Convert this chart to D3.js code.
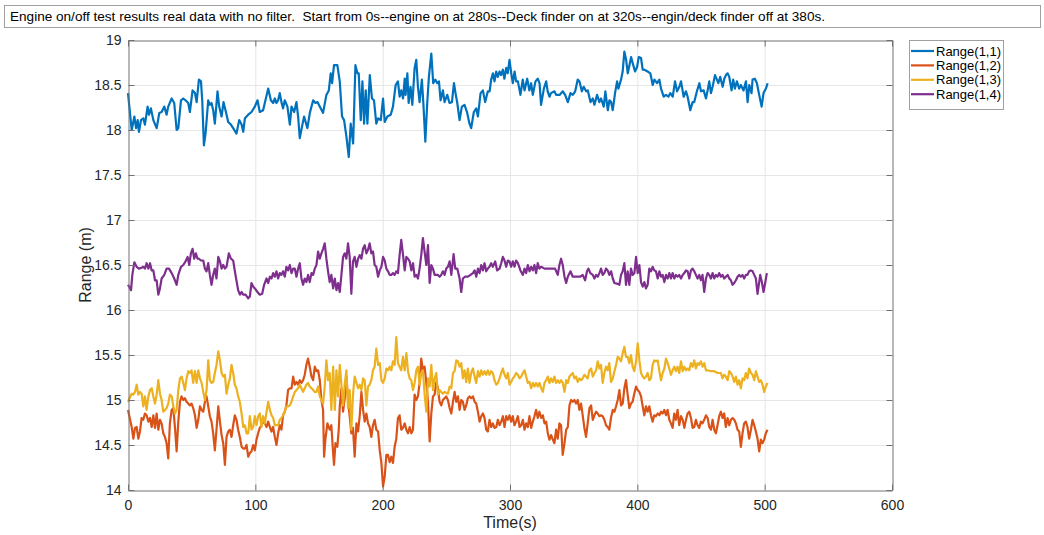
<!DOCTYPE html>
<html>
<head>
<meta charset="utf-8">
<script src="https://cdn.jsdelivr.net/npm/d3@7"></script>
<style>
  body { margin: 0; background: #fff; }
  svg { display: block; font-family: "Liberation Sans", Arial, sans-serif; }
</style>
</head>
<body>
<svg width="1044" height="535"></svg>
<script>
// chart text and ticks
const titleText = 'Engine on/off test results real data with no filter.  Start from 0s--engine on at 280s--Deck finder on at 320s--engin/deck finder off at 380s.';
const xTicks = [0, 100, 200, 300, 400, 500, 600];
const yTicks = [14, 14.5, 15, 15.5, 16, 16.5, 17, 17.5, 18, 18.5, 19];
const seriesNames = ['Range(1,1)', 'Range(1,2)', 'Range(1,3)', 'Range(1,4)'];
const seriesColors = ['#0072BD', '#D95319', '#EDB120', '#7E2F8E'];

// [time (s), range (m)]
const range11 = [[0,18.41],[2.9,18.00],[5.0,18.15],[6.3,18.02],[7.6,18.11],[8.6,17.98],[10.2,18.11],[12.0,18.13],[13.3,18.06],[15.4,18.26],[16.5,18.17],[18.0,18.24],[19.9,18.11],[22.5,18.02],[24.6,18.19],[26.4,18.20],[28.5,18.26],[30.3,18.17],[31.6,18.26],[34.3,18.35],[36.3,18.30],[38.2,18.00],[39.5,18.02],[41.6,18.33],[43.4,18.35],[45.2,18.33],[47.3,18.30],[48.6,18.20],[50.7,18.44],[52.6,18.41],[53.9,18.31],[55.7,18.56],[57.3,18.54],[58.3,18.33],[59.6,17.83],[60.9,17.96],[63.0,18.33],[64.3,18.28],[65.6,18.30],[66.9,18.22],[68.2,18.07],[70.3,18.43],[71.6,18.26],[73.5,18.15],[75.0,18.31],[76.9,18.20],[78.7,18.09],[80.8,18.06],[82.6,18.02],[85.2,17.96],[87.3,18.11],[89.2,18.06],[90.5,17.98],[91.8,18.13],[94.4,18.17],[97.0,18.20],[99.6,18.26],[101.7,18.33],[103.5,18.20],[106.1,18.22],[110.1,18.46],[112.2,18.33],[114.0,18.30],[115.3,18.35],[116.6,18.30],[117.9,18.33],[119.2,18.41],[120.5,18.31],[121.8,18.24],[123.1,18.33],[125.2,18.26],[127.1,18.06],[128.4,18.26],[130.5,18.20],[132.3,18.31],[133.6,18.15],[134.9,17.91],[136.7,18.04],[138.3,18.15],[140.9,18.02],[142.8,18.19],[145.4,18.33],[147.2,18.30],[148.8,18.31],[150.6,18.26],[153.2,18.19],[155.8,18.39],[157.7,18.44],[159.2,18.63],[160.3,18.52],[161.8,18.72],[164.4,18.72],[166.3,18.54],[168.1,18.15],[169.7,18.11],[171.5,17.93],[173.4,17.70],[174.9,18.07],[176.8,17.85],[178.6,18.72],[180.2,18.63],[181.2,18.63],[182.8,18.11],[184.1,18.54],[185.4,18.07],[186.7,18.44],[188.0,18.07],[189.9,18.61],[191.6,18.35],[193.2,18.33],[195.0,18.07],[196.4,18.13],[198.5,18.11],[200.3,18.35],[201.6,18.09],[203.7,18.15],[206.3,18.17],[208.1,18.26],[210.2,18.50],[212.0,18.54],[213.3,18.37],[214.6,18.44],[216.0,18.35],[217.3,18.57],[218.0,18.39],[219.4,18.63],[220.4,18.30],[221.9,18.48],[223.3,18.28],[225.1,18.69],[226.4,18.78],[227.7,18.48],[229.0,18.31],[230.8,18.56],[232.1,18.26],[233.5,17.87],[235.0,18.30],[236.3,18.59],[238.2,18.85],[239.7,18.52],[241.3,18.56],[242.9,18.52],[244.2,18.54],[245.5,18.33],[247.3,18.44],[248.6,18.31],[250.7,18.39],[252.5,18.30],[254.4,18.31],[256.0,18.52],[257.2,18.41],[258.6,18.30],[260.4,18.11],[262.2,18.26],[264.3,18.28],[266.4,18.19],[268.2,18.07],[269.5,18.02],[271.6,18.20],[273.5,18.24],[274.8,18.15],[276.9,18.41],[278.7,18.44],[280.5,18.31],[282.6,18.43],[284.0,18.43],[285.2,18.56],[286.6,18.63],[287.8,18.54],[289.2,18.65],[290.4,18.59],[291.8,18.65],[293.0,18.61],[294.4,18.67],[295.6,18.57],[297.0,18.69],[298.2,18.63],[299.6,18.78],[301.0,18.63],[302.2,18.52],[303.6,18.65],[304.8,18.54],[306.2,18.54],[308.2,18.39],[310.0,18.56],[311.4,18.44],[313.5,18.57],[315.2,18.44],[316.6,18.52],[317.9,18.39],[320.0,18.54],[321.8,18.57],[323.2,18.52],[324.4,18.28],[326.6,18.46],[328.4,18.54],[329.6,18.43],[331.0,18.37],[332.2,18.41],[334.9,18.43],[336.2,18.39],[338.9,18.39],[341.5,18.43],[343.3,18.39],[345.4,18.31],[347.5,18.41],[349.3,18.39],[351.2,18.43],[353.2,18.56],[354.6,18.54],[356.4,18.43],[357.9,18.48],[359.8,18.43],[361.1,18.44],[363.2,18.31],[365.0,18.35],[366.3,18.28],[368.4,18.39],[370.2,18.31],[371.5,18.35],[373.6,18.26],[374.9,18.43],[376.8,18.22],[378.1,18.33],[379.4,18.31],[380.7,18.22],[382.5,18.41],[384.1,18.54],[385.1,18.46],[387.2,18.56],[388.5,18.65],[389.8,18.87],[391.2,18.78],[392.5,18.63],[393.8,18.72],[395.1,18.81],[396.4,18.74],[398.2,18.65],[399.8,18.70],[401.1,18.81],[402.9,18.80],[404.2,18.67],[405.5,18.67],[408.1,18.65],[410.2,18.63],[412.1,18.50],[413.4,18.56],[415.5,18.52],[417.3,18.56],[418.6,18.46],[420.7,18.37],[422.5,18.39],[424.4,18.37],[425.9,18.41],[427.8,18.37],[429.6,18.54],[431.2,18.43],[433.0,18.48],[434.3,18.54],[436.4,18.37],[438.2,18.43],[439.5,18.37],[441.6,18.22],[443.4,18.31],[444.7,18.31],[446.8,18.43],[448.7,18.52],[450.0,18.43],[452.1,18.44],[453.9,18.35],[455.2,18.44],[456.5,18.54],[457.8,18.41],[459.1,18.48],[461.0,18.61],[462.5,18.56],[463.6,18.52],[465.1,18.59],[467.0,18.48],[468.3,18.57],[469.6,18.61],[470.9,18.63],[472.2,18.59],[474.0,18.44],[475.3,18.56],[476.6,18.46],[478.2,18.54],[480.0,18.46],[481.3,18.50],[483.4,18.44],[485.3,18.54],[486.6,18.31],[487.9,18.50],[489.7,18.41],[490.5,18.56],[492.3,18.57],[493.9,18.52],[495.7,18.39],[497.6,18.26],[499.1,18.41],[501.0,18.46],[502.3,18.52]];

const range12 = [[0,14.89],[2.9,14.70],[4.2,14.57],[5.5,14.69],[6.8,14.70],[8.1,14.57],[9.4,14.65],[10.7,14.80],[12.0,14.78],[13.3,14.85],[14.6,14.83],[16.0,14.76],[17.3,14.80],[18.6,14.70],[19.9,14.83],[21.2,14.69],[22.5,14.85],[23.8,14.67],[25.1,14.78],[26.4,14.74],[27.7,14.63],[29.0,14.59],[30.3,14.52],[31.6,14.35],[32.9,14.74],[34.3,14.89],[35.6,14.91],[36.9,14.69],[38.2,14.43],[39.5,14.76],[40.8,14.98],[42.1,15.04],[43.4,15.00],[44.7,15.02],[46.0,14.98],[47.3,14.96],[48.6,14.94],[49.9,14.96],[51.2,14.91],[52.6,14.83],[53.9,14.69],[55.2,14.78],[56.5,14.93],[57.8,14.89],[59.1,14.87],[60.4,14.98],[61.7,15.04],[63.0,14.93],[64.3,14.82],[65.6,14.76],[66.9,14.63],[68.2,14.44],[69.5,14.67],[70.9,14.93],[72.2,14.76],[73.5,14.61],[74.8,14.52],[76.1,14.28],[77.4,14.59],[78.7,14.65],[80.0,14.67],[81.3,14.59],[82.6,14.72],[83.9,14.83],[85.2,14.78],[86.5,14.67],[87.8,14.59],[89.2,14.48],[90.5,14.46],[91.8,14.46],[93.1,14.50],[94.4,14.37],[95.7,14.41],[97.0,14.43],[98.3,14.50],[99.6,14.44],[100.9,14.56],[102.2,14.63],[103.5,14.69],[104.8,14.72],[106.1,14.76],[107.5,14.74],[108.8,14.70],[110.1,14.76],[111.4,14.70],[112.7,14.65],[114.0,14.70],[115.3,14.59],[116.6,14.50],[117.9,14.63],[119.2,14.72],[120.5,14.67],[121.8,14.83],[123.1,14.87],[124.4,14.94],[125.7,15.11],[127.1,15.13],[128.4,15.13],[129.7,15.26],[131.0,15.17],[132.3,15.20],[133.6,15.17],[134.9,15.22],[136.2,15.19],[137.5,15.22],[138.8,15.28],[140.1,15.39],[141.4,15.46],[142.7,15.37],[144.1,15.26],[145.4,15.22],[146.7,15.37],[148.0,15.32],[149.3,15.33],[150.6,15.22],[151.9,15.00],[153.2,14.89],[154.0,14.37],[155.0,14.56],[156.6,14.74],[158.4,14.67],[159.7,14.72],[161.1,14.41],[161.8,14.28],[162.9,14.52],[164.4,14.48],[165.5,14.67],[166.3,14.93],[167.6,15.13],[168.9,14.87],[170.2,15.02],[171.5,15.26],[172.8,15.00],[174.1,14.82],[175.4,14.63],[176.7,14.69],[178.0,14.37],[179.4,14.74],[180.7,14.65],[182.0,14.83],[183.3,15.09],[184.6,14.89],[185.9,14.76],[187.2,14.85],[188.5,14.74],[189.8,14.70],[191.1,14.59],[192.4,14.72],[193.7,14.78],[195.0,14.67],[196.4,14.65],[197.7,14.44],[199.0,14.30],[200.3,14.04],[201.6,14.15],[202.9,14.39],[204.2,14.39],[205.5,14.31],[206.8,14.37],[208.1,14.30],[209.4,14.48],[210.7,14.57],[212.0,14.80],[213.3,14.83],[214.6,14.67],[215.9,14.69],[217.3,14.74],[218.6,14.67],[219.9,14.63],[221.2,14.70],[222.5,14.63],[223.8,14.67],[225.1,15.06],[226.4,15.00],[227.7,15.04],[229.0,15.19],[230.3,15.46],[231.6,15.33],[232.9,15.37],[234.3,15.19],[235.6,14.98],[236.9,14.54],[238.2,14.85],[239.5,15.04],[240.8,15.06],[242.1,15.20],[243.4,15.13],[244.7,14.98],[246.0,14.94],[247.3,15.00],[248.6,15.02],[249.9,15.04],[251.2,15.00],[252.6,14.91],[253.9,14.85],[255.2,14.98],[256.5,15.09],[257.8,14.98],[259.1,15.04],[260.4,14.89],[261.7,15.00],[263.0,14.98],[264.3,14.89],[265.6,14.94],[266.9,15.02],[268.2,15.04],[269.5,15.02],[270.9,15.04],[272.2,14.98],[273.5,14.96],[274.8,14.87],[276.1,14.76],[277.4,14.82],[278.7,14.85],[280.0,14.80],[281.3,14.67],[282.6,14.65],[283.9,14.78],[285.2,14.70],[286.5,14.74],[287.8,14.69],[289.2,14.70],[290.5,14.78],[291.8,14.72],[293.1,14.76],[294.4,14.82],[295.7,14.70],[297.0,14.82],[298.3,14.78],[299.6,14.83],[300.9,14.76],[302.2,14.82],[303.5,14.72],[304.8,14.76],[306.2,14.82],[307.5,14.70],[308.8,14.72],[310.1,14.78],[311.4,14.67],[312.7,14.74],[314.0,14.70],[315.3,14.82],[316.6,14.69],[317.9,14.76],[319.2,14.82],[320.5,14.89],[321.8,14.80],[323.1,14.87],[324.5,14.80],[325.8,14.83],[327.1,14.74],[328.4,14.76],[329.7,14.63],[331.0,14.56],[332.3,14.61],[333.6,14.56],[334.9,14.52],[336.2,14.67],[337.5,14.57],[338.8,14.74],[340.1,14.72],[341.4,14.39],[342.8,14.52],[344.1,14.67],[345.4,14.70],[346.7,14.94],[348.0,15.00],[349.3,14.98],[350.6,15.00],[351.9,14.96],[353.2,15.00],[354.5,14.89],[355.8,14.96],[357.1,14.83],[358.4,14.69],[359.7,14.59],[361.0,14.74],[362.4,14.91],[363.7,14.94],[365.0,14.78],[366.3,14.83],[367.6,14.87],[368.9,14.85],[370.2,14.82],[371.5,14.83],[372.8,14.82],[374.1,14.78],[375.4,14.72],[376.7,14.70],[378.0,14.67],[379.3,14.80],[380.7,14.89],[382.0,14.87],[383.3,14.93],[384.6,15.00],[385.9,15.11],[387.2,14.94],[388.5,14.96],[389.8,15.13],[391.1,15.22],[392.4,15.06],[393.7,14.91],[395.0,14.96],[396.3,14.98],[397.6,15.07],[399.0,15.15],[400.3,15.11],[401.6,15.09],[402.9,15.04],[404.2,14.93],[405.5,14.83],[406.8,14.93],[408.1,14.87],[409.4,14.93],[410.7,14.83],[412.0,14.76],[413.3,14.83],[414.6,14.82],[416.0,14.85],[417.3,14.83],[418.6,14.87],[419.9,14.85],[421.2,14.89],[422.5,14.83],[423.8,14.89],[425.1,14.78],[426.4,14.74],[427.7,14.69],[429.0,14.85],[430.3,14.78],[431.6,14.89],[432.9,14.72],[434.3,14.82],[435.6,14.78],[436.9,14.69],[438.2,14.78],[439.5,14.85],[440.8,14.87],[442.1,14.80],[443.4,14.69],[444.7,14.70],[446.0,14.78],[447.3,14.72],[448.6,14.69],[449.9,14.76],[451.2,14.74],[452.5,14.78],[453.9,14.83],[455.2,14.80],[456.5,14.70],[457.8,14.67],[459.1,14.78],[460.4,14.67],[461.7,14.63],[463.0,14.72],[464.3,14.82],[465.6,14.87],[466.9,14.80],[468.2,14.85],[469.5,14.70],[470.9,14.80],[472.2,14.72],[473.5,14.78],[474.8,14.80],[476.1,14.78],[477.4,14.74],[478.7,14.67],[480.0,14.65],[481.3,14.48],[482.6,14.63],[483.9,14.74],[485.2,14.76],[486.5,14.70],[487.8,14.57],[489.2,14.67],[490.5,14.78],[491.8,14.72],[493.1,14.65],[494.4,14.57],[495.7,14.43],[497.0,14.56],[498.3,14.52],[499.6,14.56],[500.9,14.63],[502.2,14.67]];

const range13 = [[0,14.98],[2.9,15.07],[4.2,15.06],[5.5,15.09],[6.8,15.17],[8.1,15.06],[9.4,15.09],[10.7,15.07],[12.0,14.93],[13.3,15.04],[14.6,14.89],[16.0,15.04],[17.3,15.11],[18.6,15.13],[19.9,15.04],[21.2,14.96],[22.5,15.06],[23.8,15.22],[25.1,15.07],[26.4,15.00],[27.7,14.87],[29.0,14.89],[30.3,14.91],[31.6,14.96],[32.9,15.06],[34.3,15.04],[35.6,14.93],[36.9,14.85],[38.2,14.89],[39.5,15.11],[40.8,15.24],[42.1,15.26],[43.4,15.19],[44.7,15.11],[46.0,15.24],[47.3,15.32],[48.6,15.30],[49.9,15.33],[51.2,15.19],[52.6,15.32],[53.9,15.19],[55.2,15.33],[56.5,15.24],[57.8,15.19],[59.1,15.09],[60.4,15.00],[61.7,15.11],[63.0,15.44],[64.3,15.22],[65.6,15.19],[66.9,15.20],[68.2,15.30],[69.5,15.39],[70.9,15.54],[72.2,15.44],[73.5,15.30],[74.8,15.26],[76.1,15.28],[77.4,15.07],[78.7,15.17],[80.0,15.24],[81.3,15.39],[82.6,15.30],[83.9,15.17],[85.2,15.13],[86.5,15.04],[87.8,14.98],[89.2,14.85],[90.5,14.70],[91.8,14.72],[93.1,14.63],[94.4,14.63],[95.7,14.82],[97.0,14.67],[98.3,14.70],[99.6,14.82],[100.9,14.72],[102.2,14.82],[103.5,14.85],[104.8,14.70],[106.1,14.82],[107.5,14.74],[108.8,14.87],[110.1,14.98],[111.4,14.89],[112.7,14.83],[114.0,14.80],[115.3,14.72],[116.6,14.72],[117.9,14.72],[119.2,14.78],[120.5,14.80],[121.8,14.83],[123.1,14.87],[124.4,14.93],[125.8,14.93],[127.1,14.94],[128.4,14.98],[129.7,15.04],[131.0,15.09],[132.3,15.11],[133.6,15.13],[134.9,15.17],[136.2,15.13],[137.5,15.09],[138.8,15.13],[140.1,15.17],[141.4,15.19],[142.7,15.15],[144.1,15.13],[145.4,15.11],[146.7,15.09],[148.0,15.09],[149.3,15.15],[150.6,15.04],[151.9,15.00],[153.2,14.96],[154.5,15.15],[155.8,15.44],[157.1,15.22],[158.4,15.30],[159.7,14.89],[161.1,15.37],[162.4,14.89],[163.7,15.33],[165.0,15.04],[166.3,15.39],[167.6,15.17],[168.9,14.94],[170.2,15.17],[171.5,15.33],[172.8,14.91],[174.1,15.11],[175.4,14.67],[176.7,15.06],[178.0,15.26],[179.4,15.19],[180.7,15.13],[182.0,15.17],[183.3,15.11],[184.6,15.24],[185.9,15.22],[187.2,14.94],[188.5,15.15],[189.8,15.17],[191.1,15.22],[192.4,15.33],[193.7,15.37],[195.0,15.57],[196.4,15.39],[197.7,15.41],[199.0,15.22],[200.3,15.19],[201.6,15.24],[202.9,15.35],[204.2,15.33],[205.5,15.37],[206.8,15.33],[208.1,15.43],[209.4,15.39],[210.7,15.70],[212.0,15.41],[213.3,15.37],[214.6,15.33],[215.9,15.48],[217.3,15.33],[218.6,15.52],[219.9,15.32],[221.2,15.24],[222.5,15.22],[223.8,15.11],[225.1,15.19],[226.4,15.33],[227.7,15.37],[229.0,15.17],[230.3,15.30],[231.6,15.33],[232.9,15.07],[234.3,14.87],[235.6,15.24],[236.9,15.15],[238.2,15.39],[239.5,15.11],[240.8,15.24],[242.1,15.30],[243.4,15.06],[244.7,15.11],[246.0,15.09],[247.3,15.07],[248.6,15.09],[251.2,15.07],[252.6,15.15],[253.9,15.13],[255.2,15.30],[256.5,15.32],[257.8,15.44],[259.1,15.43],[260.4,15.37],[261.7,15.41],[263.0,15.24],[264.3,15.33],[265.6,15.20],[266.9,15.35],[268.2,15.19],[269.5,15.30],[270.9,15.35],[272.2,15.26],[273.5,15.19],[274.8,15.32],[276.1,15.26],[277.4,15.33],[278.7,15.28],[280.0,15.32],[281.3,15.28],[282.6,15.33],[283.9,15.28],[285.2,15.32],[286.5,15.30],[287.8,15.22],[289.2,15.17],[290.5,15.19],[291.8,15.24],[293.1,15.30],[294.4,15.35],[295.7,15.28],[297.0,15.24],[298.3,15.30],[299.6,15.17],[300.9,15.20],[302.2,15.24],[303.5,15.26],[304.8,15.30],[306.2,15.28],[307.5,15.24],[308.8,15.26],[310.1,15.30],[311.4,15.33],[312.7,15.26],[314.0,15.19],[315.3,15.20],[316.6,15.13],[317.9,15.19],[319.2,15.15],[320.5,15.19],[321.8,15.15],[323.1,15.19],[324.5,15.13],[325.8,15.09],[327.1,15.19],[328.4,15.22],[329.7,15.26],[331.0,15.19],[332.3,15.24],[333.6,15.20],[334.9,15.26],[336.2,15.19],[337.5,15.22],[338.8,15.19],[340.1,15.22],[341.4,15.19],[342.8,15.09],[344.1,15.22],[345.4,15.19],[346.7,15.26],[348.0,15.28],[349.3,15.30],[350.6,15.24],[351.9,15.26],[353.2,15.20],[354.5,15.24],[355.8,15.22],[357.1,15.24],[358.4,15.28],[359.7,15.26],[361.0,15.24],[362.4,15.33],[363.7,15.35],[365.0,15.26],[366.3,15.30],[367.6,15.33],[368.9,15.43],[370.2,15.35],[371.5,15.39],[372.8,15.19],[374.1,15.30],[375.4,15.37],[376.7,15.33],[378.0,15.41],[379.3,15.20],[380.7,15.24],[382.0,15.32],[383.3,15.39],[384.6,15.48],[385.9,15.46],[387.2,15.43],[388.5,15.52],[389.8,15.59],[391.1,15.48],[392.4,15.48],[393.7,15.41],[395.0,15.50],[396.3,15.37],[397.6,15.32],[399.0,15.43],[400.3,15.63],[401.6,15.44],[402.9,15.30],[404.2,15.26],[405.5,15.24],[406.8,15.26],[408.1,15.30],[409.4,15.22],[410.7,15.24],[412.0,15.39],[413.3,15.44],[414.6,15.43],[416.0,15.44],[417.3,15.32],[418.6,15.22],[419.9,15.30],[421.2,15.35],[422.5,15.46],[423.8,15.41],[425.1,15.35],[426.4,15.28],[427.7,15.33],[429.0,15.37],[430.3,15.32],[431.6,15.37],[432.9,15.30],[434.3,15.43],[435.6,15.32],[436.9,15.37],[438.2,15.33],[439.5,15.35],[440.8,15.33],[442.1,15.41],[443.4,15.37],[444.7,15.44],[446.0,15.35],[447.3,15.41],[448.6,15.39],[449.9,15.43],[451.2,15.37],[452.5,15.41],[453.9,15.33],[455.2,15.33],[457.8,15.32],[460.4,15.32],[463.0,15.30],[465.6,15.30],[466.9,15.24],[468.2,15.28],[469.5,15.26],[470.9,15.22],[472.2,15.32],[473.5,15.30],[474.8,15.26],[476.1,15.20],[477.4,15.26],[478.7,15.17],[480.0,15.22],[481.3,15.13],[482.6,15.24],[483.9,15.22],[485.2,15.30],[486.5,15.24],[487.8,15.35],[489.2,15.30],[490.5,15.28],[491.8,15.22],[493.1,15.32],[494.4,15.26],[495.7,15.20],[497.0,15.22],[498.3,15.17],[499.6,15.09],[500.9,15.15],[502.2,15.19]];

const range14 = [[0,16.28],[2.4,16.22],[3.4,16.39],[5.0,16.53],[6.8,16.48],[8.6,16.46],[10.7,16.47],[12.0,16.48],[13.3,16.46],[14.6,16.52],[16.0,16.46],[17.3,16.52],[18.6,16.44],[19.9,16.44],[21.2,16.33],[22.5,16.33],[23.8,16.17],[25.1,16.24],[26.4,16.35],[28.5,16.39],[30.3,16.46],[32.2,16.46],[34.3,16.41],[36.3,16.35],[38.2,16.28],[39.5,16.39],[41.6,16.48],[43.4,16.50],[45.2,16.54],[46.8,16.59],[48.1,16.50],[49.4,16.63],[50.7,16.68],[52.0,16.57],[53.3,16.63],[54.6,16.57],[55.7,16.57],[57.3,16.55],[59.1,16.55],[60.4,16.46],[61.7,16.43],[63.0,16.52],[64.3,16.39],[65.6,16.28],[66.9,16.39],[68.2,16.46],[69.5,16.35],[70.9,16.59],[72.2,16.54],[73.5,16.46],[74.8,16.50],[76.1,16.46],[77.4,16.48],[79.2,16.63],[80.8,16.57],[82.6,16.55],[84.4,16.39],[86.5,16.22],[87.9,16.17],[89.2,16.20],[90.5,16.17],[92.3,16.17],[94.4,16.13],[95.7,16.15],[97.0,16.30],[98.3,16.26],[99.6,16.24],[101.7,16.20],[103.5,16.17],[105.4,16.18],[106.9,16.28],[108.8,16.35],[110.1,16.30],[111.4,16.37],[112.7,16.35],[114.0,16.41],[115.3,16.37],[116.6,16.43],[117.9,16.35],[119.2,16.41],[120.5,16.39],[121.8,16.43],[123.1,16.37],[124.4,16.48],[125.7,16.44],[127.1,16.50],[128.4,16.41],[129.7,16.46],[131.0,16.46],[132.3,16.37],[133.6,16.46],[134.9,16.52],[136.2,16.35],[137.5,16.28],[138.8,16.35],[140.1,16.31],[141.4,16.39],[142.7,16.31],[144.1,16.41],[145.4,16.39],[146.7,16.46],[148.0,16.50],[149.3,16.65],[150.6,16.57],[151.9,16.63],[153.2,16.68],[154.5,16.74],[155.8,16.57],[157.1,16.43],[158.4,16.31],[159.7,16.39],[161.1,16.24],[162.4,16.35],[163.7,16.22],[165.0,16.30],[166.3,16.20],[167.6,16.39],[168.9,16.59],[170.2,16.63],[171.5,16.57],[172.8,16.74],[174.1,16.59],[175.4,16.18],[176.7,16.54],[178.0,16.59],[179.4,16.48],[180.7,16.57],[182.0,16.61],[183.3,16.57],[184.6,16.68],[185.9,16.72],[187.2,16.63],[188.5,16.67],[189.8,16.74],[191.1,16.63],[192.4,16.65],[193.7,16.50],[195.0,16.48],[196.4,16.37],[197.7,16.44],[199.0,16.48],[200.3,16.59],[201.6,16.55],[202.9,16.46],[204.2,16.43],[205.5,16.39],[206.8,16.39],[208.1,16.41],[209.4,16.39],[210.7,16.43],[212.0,16.41],[213.3,16.61],[214.6,16.78],[216.0,16.61],[217.3,16.44],[218.6,16.59],[219.9,16.57],[221.2,16.54],[222.5,16.44],[223.8,16.52],[225.1,16.37],[226.4,16.39],[227.7,16.35],[229.0,16.46],[230.3,16.61],[231.6,16.80],[232.9,16.65],[234.3,16.50],[235.6,16.72],[236.9,16.30],[238.2,16.50],[239.5,16.46],[240.8,16.39],[242.1,16.39],[243.4,16.39],[244.7,16.37],[246.0,16.39],[247.3,16.43],[248.6,16.39],[249.9,16.46],[251.2,16.48],[252.6,16.54],[253.9,16.39],[255.7,16.62],[257.0,16.46],[258.6,16.46],[260.4,16.35],[261.7,16.20],[263.0,16.35],[264.8,16.37],[266.9,16.37],[269.0,16.39],[270.9,16.41],[272.2,16.44],[273.5,16.37],[274.8,16.46],[276.1,16.41],[277.4,16.50],[278.7,16.44],[280.0,16.52],[281.3,16.43],[282.6,16.46],[283.9,16.48],[285.2,16.52],[286.5,16.48],[288.4,16.54],[289.9,16.44],[291.8,16.46],[293.1,16.52],[294.4,16.59],[295.7,16.55],[297.0,16.48],[298.3,16.55],[299.6,16.54],[300.9,16.48],[302.2,16.54],[303.5,16.48],[304.8,16.55],[306.2,16.52],[308.2,16.44],[310.1,16.39],[311.4,16.46],[312.7,16.41],[314.0,16.50],[315.3,16.43],[316.6,16.48],[317.9,16.44],[319.2,16.50],[320.5,16.41],[321.8,16.52],[323.1,16.46],[324.5,16.48],[327.1,16.46],[329.7,16.46],[332.3,16.46],[335.4,16.46],[337.5,16.39],[338.8,16.50],[340.1,16.57],[341.4,16.50],[342.8,16.37],[344.1,16.30],[345.4,16.37],[347.5,16.43],[349.3,16.37],[351.1,16.37],[353.2,16.37],[355.3,16.37],[357.1,16.39],[359.0,16.33],[360.5,16.43],[361.6,16.46],[363.1,16.41],[365.0,16.39],[366.3,16.35],[367.6,16.39],[368.9,16.37],[370.2,16.41],[371.5,16.46],[372.8,16.39],[374.1,16.41],[375.4,16.46],[376.7,16.44],[378.0,16.39],[379.4,16.43],[380.7,16.35],[382.0,16.30],[384.6,16.29],[385.9,16.28],[387.2,16.39],[388.5,16.43],[389.8,16.52],[391.1,16.28],[392.4,16.43],[393.7,16.28],[395.0,16.46],[396.3,16.39],[397.7,16.41],[399.0,16.59],[400.3,16.41],[401.6,16.50],[402.9,16.31],[404.2,16.26],[405.5,16.31],[406.8,16.24],[408.1,16.28],[409.4,16.46],[410.7,16.43],[412.0,16.48],[413.3,16.44],[414.6,16.43],[416.0,16.35],[417.3,16.43],[418.6,16.37],[419.9,16.39],[421.2,16.31],[422.5,16.39],[423.8,16.35],[425.1,16.41],[426.4,16.35],[427.7,16.41],[429.0,16.35],[430.3,16.39],[431.6,16.37],[432.9,16.39],[434.3,16.35],[435.6,16.39],[436.9,16.41],[438.2,16.44],[439.5,16.43],[440.8,16.35],[442.1,16.44],[443.4,16.46],[444.7,16.43],[446.0,16.39],[447.3,16.35],[448.6,16.39],[449.9,16.33],[451.2,16.39],[452.5,16.20],[453.9,16.35],[455.2,16.41],[456.5,16.39],[457.8,16.35],[459.1,16.41],[460.4,16.35],[461.7,16.39],[463.0,16.37],[464.3,16.41],[465.6,16.37],[466.9,16.39],[468.2,16.35],[469.5,16.37],[470.9,16.39],[472.2,16.35],[473.5,16.33],[474.8,16.28],[476.1,16.30],[477.4,16.33],[478.7,16.37],[480.0,16.39],[481.3,16.37],[482.6,16.39],[483.9,16.35],[485.2,16.39],[486.5,16.39],[487.8,16.43],[489.2,16.44],[490.5,16.43],[491.8,16.39],[493.1,16.35],[494.4,16.18],[495.7,16.31],[496.5,16.39],[497.8,16.31],[499.1,16.20],[500.4,16.30],[501.7,16.41]];

const allSeries = [range11, range12, range13, range14];

const svg = d3.select('svg');

const x = d3.scaleLinear().domain([0, 600]).range([128, 892]);
const y = d3.scaleLinear().domain([14, 19]).range([490, 40]);

// title box
svg.append('rect')
  .attr('x', 4.5).attr('y', 5.5).attr('width', 1036).attr('height', 22)
  .attr('fill', '#fff').attr('stroke', '#a0a0a0');
svg.append('text')
  .attr('x', 10).attr('y', 21)
  .attr('font-size', 13).attr('fill', '#000')
  .style('white-space', 'pre')
  .attr('textLength', 815).attr('lengthAdjust', 'spacingAndGlyphs')
  .text(titleText);

// grid
const grid = svg.append('g');
grid.selectAll('line.gx').data(xTicks.slice(1, -1)).enter().append('line')
  .attr('x1', d => x(d) + 0.5).attr('x2', d => x(d) + 0.5)
  .attr('y1', y(19)).attr('y2', y(14))
  .attr('stroke', '#e6e6e6').attr('stroke-width', 1);
grid.selectAll('line.gy').data(yTicks.slice(1, -1)).enter().append('line')
  .attr('y1', d => y(d) + 0.5).attr('y2', d => y(d) + 0.5)
  .attr('x1', x(0)).attr('x2', x(600))
  .attr('stroke', '#e6e6e6').attr('stroke-width', 1);

// data lines
const line = d3.line().x(d => x(d[0])).y(d => y(d[1]));
svg.append('g').selectAll('path')
  .data(allSeries).enter().append('path')
  .attr('d', line)
  .attr('fill', 'none')
  .attr('stroke', (d, i) => seriesColors[i])
  .attr('stroke-width', 2.2)
  .attr('stroke-linejoin', 'round');

// axes, ticks pointing inward like matlab
function styleAxis(g) {
  g.select('.domain').attr('stroke', '#707070');
  g.selectAll('.tick line').attr('stroke', '#707070');
  g.selectAll('.tick text').attr('fill', '#262626').attr('font-size', 14)
    .attr('font-family', '"Liberation Sans", Arial, sans-serif');
}
svg.append('g').attr('transform', 'translate(0,490.5)')
  .call(d3.axisBottom(x).tickValues(xTicks).tickFormat(d3.format('d')).tickSizeInner(-6).tickSizeOuter(0).tickPadding(10))
  .call(styleAxis);
svg.append('g').attr('transform', 'translate(0,40.5)')
  .call(d3.axisTop(x).tickValues(xTicks).tickFormat('').tickSizeInner(-6).tickSizeOuter(0))
  .call(styleAxis);
svg.append('g').attr('transform', 'translate(128.5,0)')
  .call(d3.axisLeft(y).tickValues(yTicks).tickFormat(d3.format('')).tickSizeInner(-6).tickSizeOuter(0).tickPadding(7))
  .call(styleAxis);
svg.append('g').attr('transform', 'translate(892.5,0)')
  .call(d3.axisRight(y).tickValues(yTicks).tickFormat('').tickSizeInner(-6).tickSizeOuter(0))
  .call(styleAxis);

// axis labels
svg.append('text')
  .attr('x', x(300)).attr('y', 528)
  .attr('text-anchor', 'middle').attr('font-size', 16).attr('fill', '#262626')
  .text('Time(s)');
svg.append('text')
  .attr('transform', 'translate(91,' + y(16.5) + ') rotate(-90)')
  .attr('text-anchor', 'middle').attr('font-size', 16).attr('fill', '#262626')
  .text('Range (m)');

// legend
const legend = svg.append('g');
legend.append('rect')
  .attr('x', 909.5).attr('y', 40.5).attr('width', 94).attr('height', 69)
  .attr('fill', '#fff').attr('stroke', '#a0a0a0');
const items = legend.selectAll('g.item').data(seriesNames).enter().append('g')
  .attr('transform', (d, i) => 'translate(0,' + (51 + i * 14.4) + ')');
items.append('line')
  .attr('x1', 911).attr('x2', 934).attr('y1', 0).attr('y2', 0)
  .attr('stroke', (d, i) => seriesColors[i]).attr('stroke-width', 2.2);
items.append('text')
  .attr('x', 936).attr('y', 4.5)
  .attr('font-size', 13).attr('fill', '#000')
  .text(d => d);
</script>
</body>
</html>
